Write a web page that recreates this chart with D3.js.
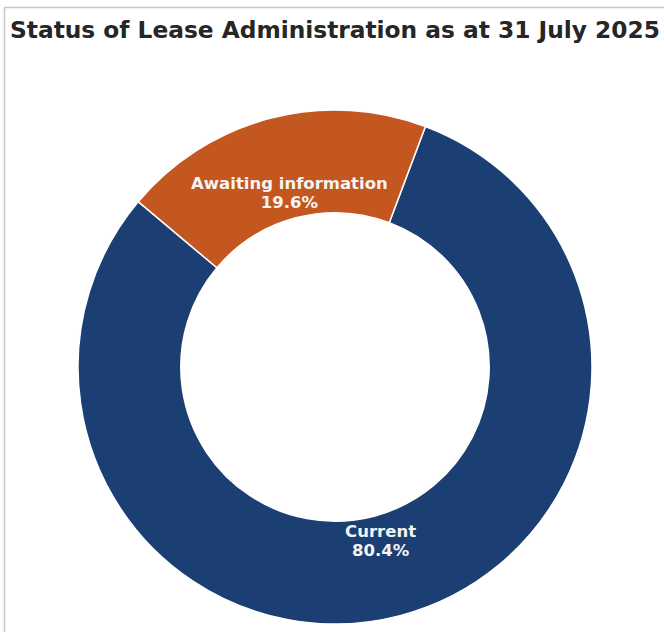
<!DOCTYPE html>
<html><head><meta charset="utf-8">
<script src="https://cdn.jsdelivr.net/npm/d3@7"></script>
<style>body{margin:0;background:#fff;} svg{display:block;}</style>
</head><body>
<script>
const categories = ["Current", "Awaiting information"];
const values = [80.4, 19.6];
const colors = ["#1c3f73", "#c4561f"];
const title = "Status of Lease Administration as at 31 July 2025";

const W = 664, H = 632;
const svg = d3.select("body").append("svg").attr("width", W).attr("height", H);
svg.append("rect").attr("x", 4.5).attr("y", 7.5).attr("width", W + 10).attr("height", H + 10)
  .attr("fill", "none").attr("stroke", "#c8c8c8").attr("stroke-width", 1.5);

svg.append("text").attr("x", 10).attr("y", 38)
  .attr("font-family", "DejaVu Sans").attr("font-weight", "bold").attr("font-size", 23.3)
  .attr("fill", "#262626").text(title);

const cx = 335, cy = 367, R = 257, r = R * 0.6;
const startDeg = 20.6;
const pie = d3.pie().sort(null)
  .startAngle(startDeg * Math.PI / 180)
  .endAngle((startDeg + 360) * Math.PI / 180);
const arcs = pie(values);
const arc = d3.arc().innerRadius(r).outerRadius(R);
const g = svg.append("g").attr("transform", `translate(${cx},${cy})`);
g.selectAll("path").data(arcs).join("path")
  .attr("d", arc).attr("fill", (d, i) => colors[i])
  .attr("stroke", "#ffffff").attr("stroke-width", 1.5);

const lab = d3.arc().innerRadius(R * 0.7).outerRadius(R * 0.7);
arcs.forEach((d, i) => {
  const [x, y] = lab.centroid(d);
  const t = g.append("text").attr("text-anchor", "middle")
    .attr("font-family", "DejaVu Sans").attr("font-weight", "bold").attr("font-size", 16.5)
    .attr("fill", "#f4f4f4");
  t.append("tspan").attr("x", x).attr("y", y - 4).text(categories[i]);
  t.append("tspan").attr("x", x).attr("y", y + 15).text(values[i].toFixed(1) + "%");
});
</script>
</body></html>
